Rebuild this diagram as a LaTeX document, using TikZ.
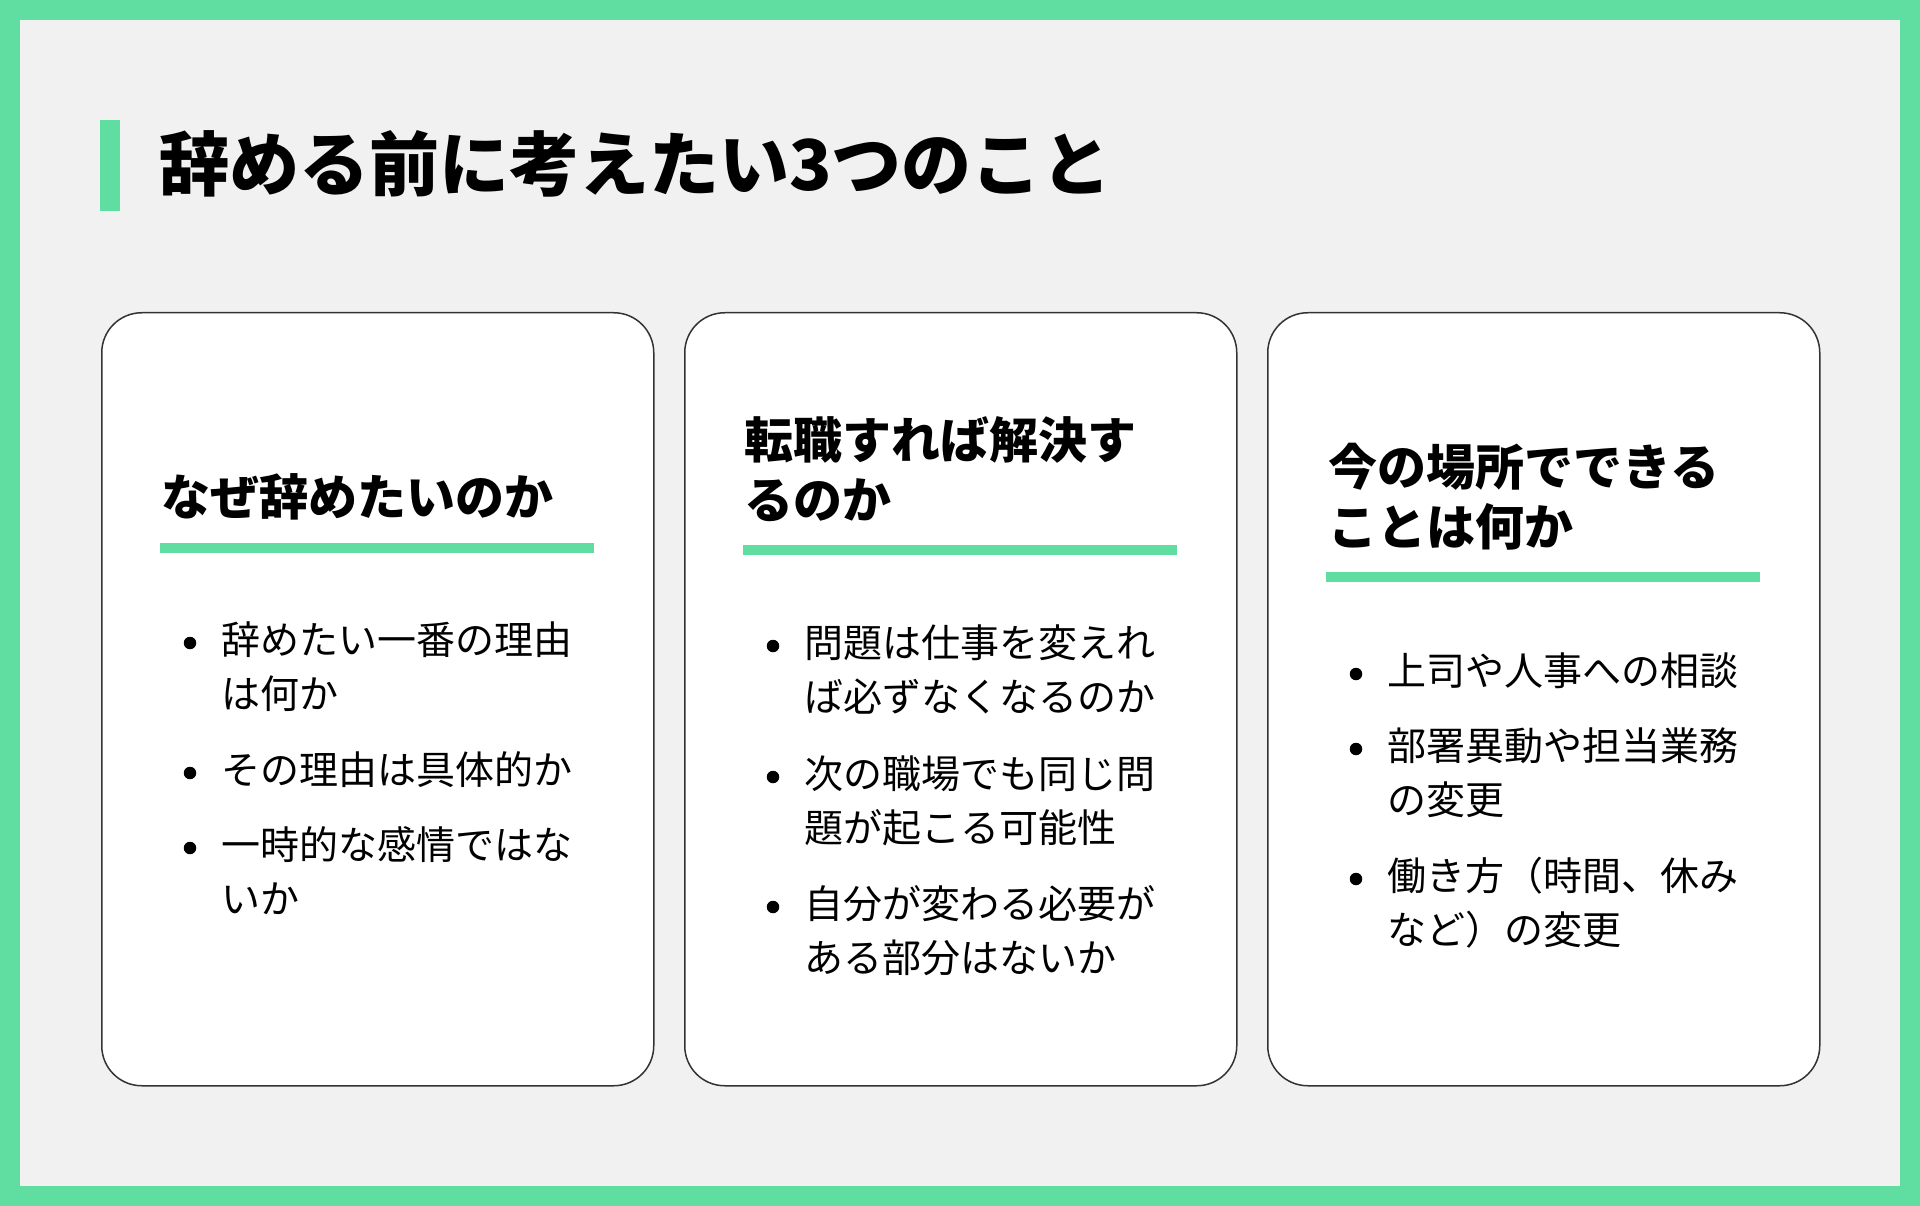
\documentclass[tikz,border=0pt]{standalone}
\usepackage{fontspec}
\setmainfont{Noto Sans CJK JP}
\definecolor{accent}{RGB}{96,221,160}
\definecolor{paper}{RGB}{241,241,241}
\definecolor{cardline}{RGB}{51,51,51}
\begin{document}
\begin{tikzpicture}[x=1pt,y=-1pt,
  cardbox/.style={draw=cardline, fill=white, line width=1.5pt, rounded corners=40pt,
    minimum width=552pt, minimum height=773pt, inner sep=0pt, anchor=north west},
  headtext/.style={font=\fontsize{49}{59.5}\selectfont\bfseries, align=left, inner sep=0pt, anchor=base west},
  itemtext/.style={font=\fontsize{39}{54}\selectfont, align=left, inner sep=0pt, anchor=base west},
  dot/.style={circle, fill=black, minimum size=12.5pt, inner sep=0pt},
  greenrule/.style={accent, line width=10pt}]
\useasboundingbox (0,0) rectangle (1920,1206);
\fill[accent] (0,0) rectangle (1920,1206);
\fill[paper] (20,20) rectangle (1900,1186);
% title
\fill[accent] (100,120) rectangle (120,211);
\node[font=\fontsize{70}{70}\selectfont\bfseries, inner sep=0pt, anchor=base west] (title) at (159,191) {辞める前に考えたい3つのこと};
% cards
\node[cardbox] (card1) at (101,312) {};
\node[cardbox] (card2) at (684,312) {};
\node[cardbox] (card3) at (1267,312) {};
% card 1 (base = last line)
\node[headtext] (head1) at (161,515) {なぜ辞めたいのか};
\draw[greenrule] (160,548) -- (594,548);
\node[dot] (dot11) at (190,643) {};
\node[itemtext] (item11) at (221,708) {辞めたい一番の理由\\は何か};
\node[dot] (dot12) at (190,773) {};
\node[itemtext] (item12) at (221,784) {その理由は具体的か};
\node[dot] (dot13) at (190,848) {};
\node[itemtext] (item13) at (221,913) {一時的な感情ではな\\いか};
% card 2
\node[headtext] (head2) at (744,518) {転職すれば解決す\\るのか};
\draw[greenrule] (743,550) -- (1177,550);
\node[dot] (dot21) at (773,646) {};
\node[itemtext] (item21) at (804,711) {問題は仕事を変えれ\\ば必ずなくなるのか};
\node[dot] (dot22) at (773,777) {};
\node[itemtext] (item22) at (804,842) {次の職場でも同じ問\\題が起こる可能性};
\node[dot] (dot23) at (773,907) {};
\node[itemtext] (item23) at (804,972) {自分が変わる必要が\\ある部分はないか};
% card 3
\node[headtext] (head3) at (1328,545) {今の場所でできる\\ことは何か};
\draw[greenrule] (1326,577) -- (1760,577);
\node[dot] (dot31) at (1356,674) {};
\node[itemtext] (item31) at (1387,685) {上司や人事への相談};
\node[dot] (dot32) at (1356,749) {};
\node[itemtext] (item32) at (1387,814) {部署異動や担当業務\\の変更};
\node[dot] (dot33) at (1356,879) {};
\node[itemtext] (item33) at (1387,944) {働き方（時間、休み\\など）の変更};
\end{tikzpicture}
\end{document}
